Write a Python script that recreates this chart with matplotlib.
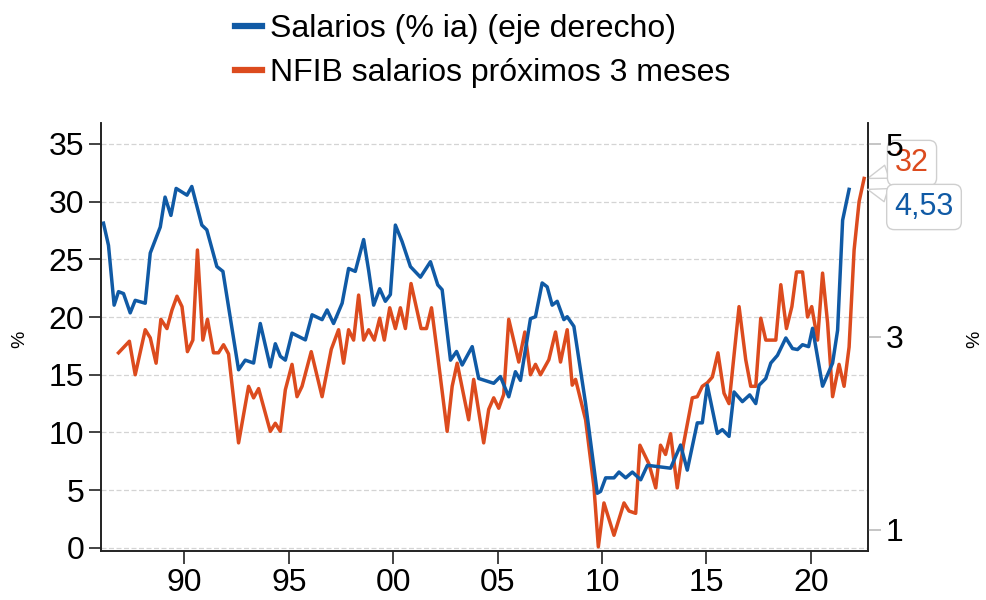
import matplotlib.pyplot as plt

plt.rcParams['font.family'] = ['Liberation Sans', 'DejaVu Sans']

# Salarios (% ia), eje derecho
sal_x = [1986.12, 1986.36, 1986.63, 1986.84, 1987.08, 1987.40, 1987.64, 1988.12, 1988.36, 1988.84,
         1989.07, 1989.35, 1989.60, 1990.12, 1990.35, 1990.83, 1991.07, 1991.55, 1991.84, 1992.59,
         1992.91, 1993.31, 1993.63, 1994.11, 1994.35, 1994.59, 1994.83, 1995.15, 1995.79, 1996.11,
         1996.59, 1996.83, 1997.14, 1997.55, 1997.86, 1998.18, 1998.58, 1998.82, 1999.06, 1999.35,
         1999.62, 1999.86, 2000.10, 2000.42, 2000.82, 2001.30, 2001.78, 2002.13, 2002.34, 2002.74,
         2003.03, 2003.30, 2003.78, 2004.09, 2004.81, 2005.13, 2005.53, 2005.85, 2006.09, 2006.57,
         2006.81, 2007.13, 2007.37, 2007.61, 2007.85, 2008.17, 2008.33, 2008.65, 2009.21, 2009.77,
         2009.93, 2010.17, 2010.57, 2010.81, 2011.13, 2011.45, 2011.85, 2012.17, 2013.28, 2013.76,
         2014.08, 2014.56, 2014.80, 2015.04, 2015.52, 2015.76, 2016.08, 2016.32, 2016.72, 2017.07,
         2017.36, 2017.52, 2017.84, 2018.08, 2018.40, 2018.80, 2019.12, 2019.36, 2019.60, 2019.89,
         2020.08, 2020.56, 2021.04, 2021.28, 2021.52, 2021.83]
sal_y = [4.18, 3.95, 3.33, 3.47, 3.45, 3.25, 3.38, 3.35, 3.87, 4.14,
         4.45, 4.26, 4.54, 4.47, 4.56, 4.16, 4.11, 3.73, 3.68, 2.66,
         2.76, 2.73, 3.14, 2.69, 2.93, 2.80, 2.76, 3.04, 2.97, 3.23,
         3.18, 3.28, 3.14, 3.35, 3.71, 3.68, 4.01, 3.69, 3.33, 3.50,
         3.37, 3.44, 4.16, 3.99, 3.73, 3.62, 3.78, 3.54, 3.49, 2.76,
         2.85, 2.71, 2.90, 2.57, 2.52, 2.59, 2.38, 2.64, 2.55, 3.19,
         3.21, 3.56, 3.52, 3.33, 3.37, 3.18, 3.21, 3.11, 2.31, 1.38,
         1.40, 1.54, 1.54, 1.60, 1.54, 1.60, 1.52, 1.67, 1.64, 1.88,
         1.62, 2.11, 2.11, 2.50, 2.00, 2.04, 1.97, 2.43, 2.33, 2.40,
         2.31, 2.50, 2.57, 2.73, 2.81, 2.99, 2.88, 2.87, 2.92, 2.90,
         3.09, 2.49, 2.73, 3.07, 4.21, 4.53]

# NFIB salarios próximos 3 meses, eje izquierdo
nfib_x = [1986.84, 1987.36, 1987.64, 1988.12, 1988.36, 1988.64, 1988.87, 1989.16, 1989.40, 1989.64,
          1989.88, 1990.14, 1990.40, 1990.62, 1990.88, 1991.10, 1991.39, 1991.63, 1991.87, 1992.11,
          1992.59, 1993.07, 1993.31, 1993.55, 1994.11, 1994.35, 1994.59, 1994.83, 1995.15, 1995.39,
          1995.63, 1996.07, 1996.59, 1997.03, 1997.38, 1997.62, 1997.86, 1998.10, 1998.34, 1998.58,
          1998.82, 1999.09, 1999.35, 1999.57, 1999.83, 2000.10, 2000.34, 2000.58, 2000.85, 2001.33,
          2001.59, 2001.83, 2002.13, 2002.58, 2002.82, 2003.06, 2003.61, 2003.85, 2004.33, 2004.57,
          2004.81, 2005.05, 2005.29, 2005.53, 2006.01, 2006.30, 2006.57, 2006.81, 2007.05, 2007.45,
          2007.77, 2008.01, 2008.33, 2008.57, 2008.73, 2009.21, 2009.61, 2009.82, 2010.09, 2010.57,
          2011.05, 2011.29, 2011.61, 2011.81, 2012.24, 2012.57, 2012.80, 2013.04, 2013.28, 2013.60,
          2013.89, 2014.32, 2014.56, 2014.80, 2015.04, 2015.28, 2015.55, 2015.84, 2016.08, 2016.56,
          2016.88, 2017.12, 2017.36, 2017.60, 2017.84, 2018.32, 2018.56, 2018.83, 2019.09, 2019.31,
          2019.60, 2019.84, 2020.04, 2020.32, 2020.56, 2020.80, 2021.04, 2021.35, 2021.59, 2021.83,
          2022.07, 2022.31, 2022.55]
nfib_y = [16.9, 17.9, 15.0, 18.9, 18.2, 16.0, 19.8, 19.0, 20.6, 21.8,
          20.9, 17.0, 18.0, 25.8, 18.0, 19.8, 16.9, 16.9, 17.6, 16.8,
          9.1, 14.0, 13.0, 13.8, 10.1, 10.8, 10.1, 13.7, 15.9, 13.1,
          14.0, 17.0, 13.1, 17.2, 18.9, 16.0, 18.9, 18.0, 21.9, 18.0,
          18.9, 18.0, 19.9, 18.0, 20.8, 19.0, 20.8, 19.0, 22.9, 19.0,
          19.0, 20.8, 16.6, 10.1, 14.0, 16.0, 11.1, 14.6, 9.1, 12.0,
          13.0, 12.1, 13.3, 19.8, 16.1, 18.7, 15.0, 15.9, 15.0, 16.3,
          18.7, 16.1, 18.9, 14.1, 14.6, 11.1, 5.3, 0.1, 3.9, 1.1,
          3.9, 3.2, 3.0, 8.9, 7.3, 5.2, 8.9, 8.1, 9.9, 5.2,
          8.9, 13.0, 13.1, 14.0, 14.3, 14.8, 16.9, 13.4, 12.5, 20.9,
          16.3, 14.0, 14.0, 19.9, 18.0, 18.0, 22.8, 19.0, 20.9, 23.9,
          23.9, 20.0, 20.9, 18.0, 23.8, 19.5, 13.1, 15.9, 14.0, 17.4,
          25.8, 30.0, 32.0]

year_ticks = [1990, 1995, 2000, 2005, 2010, 2015, 2020]
year_labels = ['90', '95', '00', '05', '10', '15', '20']
left_ticks = [0, 5, 10, 15, 20, 25, 30, 35]
right_ticks = [1, 3, 5]

blue = '#105aa5'
red = '#dc4b1e'

fig = plt.figure(figsize=(9.87, 6), dpi=100)
ax = fig.add_axes([0.1023, 0.0817, 0.7768, 0.7133])
ax2 = ax.twinx()

l_red, = ax.plot(nfib_x, nfib_y, color=red, lw=2.5, solid_joinstyle='round')
l_blue, = ax2.plot(sal_x, sal_y, color=blue, lw=2.5, solid_joinstyle='round')

ax.set_xlim(1986.0, 2022.72)
ax.set_ylim(-0.26, 36.8)
ax2.set_ylim(0.782, 5.218)

ax.set_xticks(year_ticks)
ax.set_xticklabels(year_labels)
ax.set_yticks(left_ticks)
ax2.set_yticks(right_ticks)

ax.grid(axis='y', color='#d4d4d4', linestyle=(0, (4, 2)), linewidth=0.9)
ax.set_axisbelow(True)

for a in (ax, ax2):
    a.spines['top'].set_visible(False)
    for s in a.spines.values():
        s.set_linewidth(1.2)
        s.set_color('#222222')
ax.tick_params(axis='both', labelsize=23, length=9, width=1.2, color='#222222', pad=3)
ax2.tick_params(axis='y', labelsize=23, length=9, width=1.2, color='#bbbbbb', pad=4)

fig.text(0.02, 0.435, '%', rotation=90, fontsize=14, ha='center', va='center')
fig.text(0.988, 0.435, '%', rotation=90, fontsize=14, ha='center', va='center')

# etiquetas del último dato, con su flecha hacia el eje
box = dict(boxstyle='round,pad=0.25', fc='white', ec='#cfcfcf', lw=1.0)
arrow = dict(arrowstyle='wedge,tail_width=0.45', fc='white', ec='#cfcfcf', lw=1.0, shrinkA=0, shrinkB=0)
ax.annotate('32', xy=(1.0, nfib_y[-1]), xycoords=('axes fraction', 'data'),
            xytext=(912, 437), textcoords='figure pixels', ha='center', va='center',
            fontsize=22, color=red, bbox=box, zorder=10, annotation_clip=False,
            arrowprops=arrow)
ax2.annotate('4,53', xy=(1.0, sal_y[-1]), xycoords=('axes fraction', 'data'),
             xytext=(924, 393), textcoords='figure pixels', ha='center', va='center',
             fontsize=22, color=blue, bbox=box, zorder=10, annotation_clip=False,
             arrowprops=arrow)

leg = fig.legend([l_blue, l_red], ['Salarios (% ia) (eje derecho)', 'NFIB salarios próximos 3 meses'],
                 loc='upper center', bbox_to_anchor=(0.489, 1.025), frameon=False, fontsize=23,
                 handlelength=0.85, handletextpad=0.25, labelspacing=0.45)
for h in leg.get_lines():
    h.set_linewidth(4.5)

fig.savefig('out.png', dpi=100)
